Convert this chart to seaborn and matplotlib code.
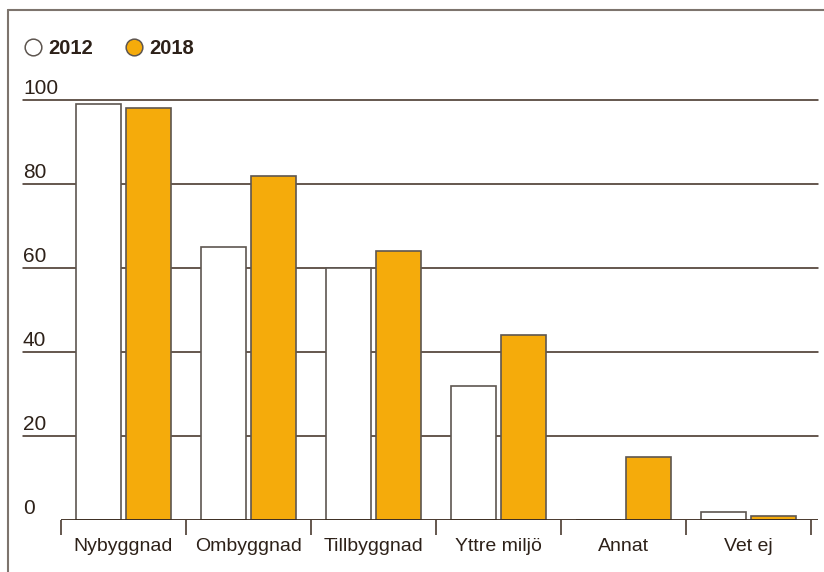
import matplotlib
matplotlib.use("Agg")
import matplotlib.pyplot as plt
from matplotlib.lines import Line2D
import pandas as pd
import seaborn as sns

kategorier = ["Nybyggnad", "Ombyggnad", "Tillbyggnad", "Yttre miljö", "Annat", "Vet ej"]
andel_2012 = [99, 65, 60, 32, 0, 2]
andel_2018 = [98, 82, 64, 44, 15, 1]
ar = ["2012", "2018"]
y_ticks = [0, 20, 40, 60, 80, 100]

text_farg = "#2d2119"
linje_farg = "#3a2a1e"
kant_farg = "#5e5650"
orange = "#F5AB0B"

df = pd.DataFrame({
    "Kategori": kategorier * 2,
    "Andel": andel_2012 + andel_2018,
    "År": [ar[0]] * len(kategorier) + [ar[1]] * len(kategorier),
})

sns.set_theme(style="white")
plt.rcParams["font.family"] = ["Liberation Sans", "DejaVu Sans"]

fig = plt.figure(figsize=(8.24, 5.72), dpi=100)
W, H = 824, 572
ax = fig.add_axes([61 / W, 1 - 520 / H, (818 - 61) / W, (520 - 100) / H])

# stödlinjer bakom staplarna
for v in y_ticks[1:]:
    ax.axhline(v, xmin=(23 - 61) / 757, xmax=1, color=linje_farg, lw=1.1,
               zorder=0.5, clip_on=False)

sns.barplot(data=df, x="Kategori", y="Andel", hue="År", ax=ax,
            palette={"2012": "white", "2018": orange}, saturation=1,
            width=0.8, gap=0.1, edgecolor=kant_farg, linewidth=1.2,
            legend=False, zorder=2)

ax.axhline(0, color=linje_farg, lw=1.3, zorder=3)
ax.set_xlim(-0.5, 5.5 + 7 / 125)
ax.set_ylim(0, 100)
for s in ax.spines.values():
    s.set_visible(False)

# y-etiketter ovanför linjerna
ax.set_yticks([])
for v in y_ticks:
    ax.annotate(str(v), xy=((23 - 61) / 757, v), xycoords=("axes fraction", "data"),
                xytext=(0, 1.5), textcoords="offset points", ha="left", va="bottom",
                fontsize=15, color=text_farg, annotation_clip=False)

ax.set_xlabel("")
ax.set_ylabel("")
ax.set_xticks(range(len(kategorier)))
ax.set_xticklabels(kategorier, fontsize=14, color=text_farg)
ax.tick_params(axis="x", which="major", length=0, pad=13)
ax.set_xticks([i - 0.5 for i in range(len(kategorier) + 1)], minor=True)
ax.tick_params(axis="x", which="minor", length=11, width=1.1, color=linje_farg,
               direction="out", bottom=True)

# förklaring
handtag = [
    Line2D([], [], marker="o", ls="", markersize=12, markerfacecolor="white",
           markeredgecolor=kant_farg, markeredgewidth=1.1),
    Line2D([], [], marker="o", ls="", markersize=12, markerfacecolor=orange,
           markeredgecolor=kant_farg, markeredgewidth=1.1),
]
fig.legend(handtag, ar, loc="center left", bbox_to_anchor=(13 / W, 1 - 49 / H),
           ncol=2, frameon=False, handletextpad=0.25, columnspacing=1.55,
           handlelength=1.0, borderpad=0,
           prop={"weight": "bold", "size": 14.5}, labelcolor=text_farg)

# ram
ram = "#7d746d"
fig.add_artist(Line2D([8 / W, 1], [1 - 10 / H, 1 - 10 / H], color=ram, lw=1.5,
                      transform=fig.transFigure))
fig.add_artist(Line2D([8 / W, 8 / W], [0, 1 - 10 / H], color=ram, lw=1.5,
                      transform=fig.transFigure))

fig.savefig("out.png", dpi=100)
